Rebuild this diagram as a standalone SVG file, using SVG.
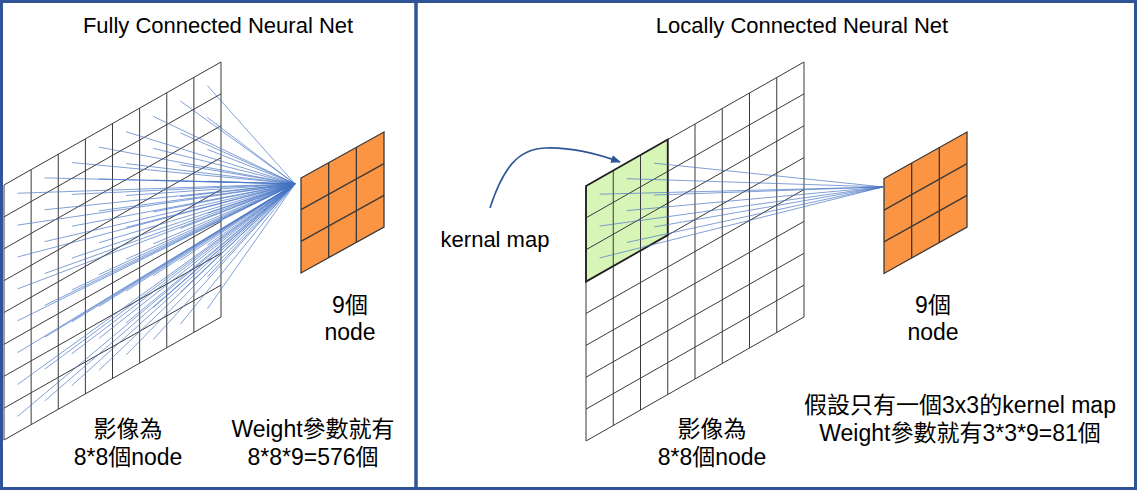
<svg xmlns="http://www.w3.org/2000/svg" width="1137" height="490" viewBox="0 0 1137 490">
<style>
.t{font-family:"Liberation Sans","Noto Sans CJK TC",sans-serif;fill:#000;text-anchor:middle}
.grid{fill:none;stroke:#3a3a3a;stroke-width:1}
.orange{fill:#FB9443;stroke:#3a3a3a;stroke-width:1.3}
.blue{fill:none;stroke:#4472C4;stroke-width:0.8;stroke-opacity:0.85}
.ns{vector-effect:non-scaling-stroke}
</style>
<defs>
<marker id="ah" markerWidth="10" markerHeight="8" refX="9" refY="4" orient="auto" markerUnits="userSpaceOnUse">
<path d="M0,0L10,4L0,8Z" fill="#2F5597"/>
</marker>
</defs>
<rect x="0" y="0" width="1137" height="490" fill="#fff"/>

<g id="frame">
<rect x="1.5" y="1.5" width="1134" height="487" fill="none" stroke="#2F5597" stroke-width="3"/>
<line x1="416" y1="0" x2="416" y2="490" stroke="#2F5597" stroke-width="3.5"/>
</g>

<g id="left-title"><text class="t" x="218" y="33" font-size="22">Fully Connected Neural Net</text></g>
<g id="right-title"><text class="t" x="802" y="33" font-size="22">Locally Connected Neural Net</text></g>

<g id="left-input-grid">
<path class="grid ns" transform="matrix(27.125,-15.375,0,31.875,4,185)" d="M0,0V8M1,0V8M2,0V8M3,0V8M4,0V8M5,0V8M6,0V8M7,0V8M8,0V8M0,0H8M0,1H8M0,2H8M0,3H8M0,4H8M0,5H8M0,6H8M0,7H8M0,8H8"/>
</g>

<g id="left-output">
<path class="orange ns" transform="matrix(27.667,-15.333,0,31.667,301,178)" d="M0,0H3V3H0Z"/>
<path class="grid ns" transform="matrix(27.667,-15.333,0,31.667,301,178)" d="M1,0V3M2,0V3M0,1H3M0,2H3" style="stroke-width:1.3"/>
</g>

<g id="right-input-grid">
<path transform="matrix(27.25,-15.5,0,31.875,586,186)" d="M0,0H3V3H0Z" fill="#D8F5B8"/>
<path class="grid ns" transform="matrix(27.25,-15.5,0,31.875,586,186)" d="M0,0V8M1,0V8M2,0V8M3,0V8M4,0V8M5,0V8M6,0V8M7,0V8M8,0V8M0,0H8M0,1H8M0,2H8M0,3H8M0,4H8M0,5H8M0,6H8M0,7H8M0,8H8"/>
<path class="ns" transform="matrix(27.25,-15.5,0,31.875,586,186)" d="M0,0H3V3H0Z" fill="none" stroke="#222" stroke-width="1.8"/>
</g>

<g id="right-output">
<path class="orange ns" transform="matrix(27.667,-15.5,0,31.667,884,178.5)" d="M0,0H3V3H0Z"/>
<path class="grid ns" transform="matrix(27.667,-15.5,0,31.667,884,178.5)" d="M1,0V3M2,0V3M0,1H3M0,2H3" style="stroke-width:1.3"/>
</g>

<g id="connectors">
<path class="blue ns" transform="matrix(27.125,-15.375,0,31.875,4,185)" d="M.5,.5L10.73,5.14M.5,1.5L10.73,5.14M.5,2.5L10.73,5.14M.5,3.5L10.73,5.14M.5,4.5L10.73,5.14M.5,5.5L10.73,5.14M.5,6.5L10.73,5.14M.5,7.5L10.73,5.14M1.5,.5L10.73,5.14M1.5,1.5L10.73,5.14M1.5,2.5L10.73,5.14M1.5,3.5L10.73,5.14M1.5,4.5L10.73,5.14M1.5,5.5L10.73,5.14M1.5,6.5L10.73,5.14M1.5,7.5L10.73,5.14M2.5,.5L10.73,5.14M2.5,1.5L10.73,5.14M2.5,2.5L10.73,5.14M2.5,3.5L10.73,5.14M2.5,4.5L10.73,5.14M2.5,5.5L10.73,5.14M2.5,6.5L10.73,5.14M2.5,7.5L10.73,5.14M3.5,.5L10.73,5.14M3.5,1.5L10.73,5.14M3.5,2.5L10.73,5.14M3.5,3.5L10.73,5.14M3.5,4.5L10.73,5.14M3.5,5.5L10.73,5.14M3.5,6.5L10.73,5.14M3.5,7.5L10.73,5.14M4.5,.5L10.73,5.14M4.5,1.5L10.73,5.14M4.5,2.5L10.73,5.14M4.5,3.5L10.73,5.14M4.5,4.5L10.73,5.14M4.5,5.5L10.73,5.14M4.5,6.5L10.73,5.14M4.5,7.5L10.73,5.14M5.5,.5L10.73,5.14M5.5,1.5L10.73,5.14M5.5,2.5L10.73,5.14M5.5,3.5L10.73,5.14M5.5,4.5L10.73,5.14M5.5,5.5L10.73,5.14M5.5,6.5L10.73,5.14M5.5,7.5L10.73,5.14M6.5,.5L10.73,5.14M6.5,1.5L10.73,5.14M6.5,2.5L10.73,5.14M6.5,3.5L10.73,5.14M6.5,4.5L10.73,5.14M6.5,5.5L10.73,5.14M6.5,6.5L10.73,5.14M6.5,7.5L10.73,5.14M7.5,.5L10.73,5.14M7.5,1.5L10.73,5.14M7.5,2.5L10.73,5.14M7.5,3.5L10.73,5.14M7.5,4.5L10.73,5.14M7.5,5.5L10.73,5.14M7.5,6.5L10.73,5.14M7.5,7.5L10.73,5.14"/>
<path class="blue ns" transform="matrix(27.25,-15.5,0,31.875,586,186)" d="M.5,.5L10.9,5.33M.5,1.5L10.9,5.33M.5,2.5L10.9,5.33M1.5,.5L10.9,5.33M1.5,1.5L10.9,5.33M1.5,2.5L10.9,5.33M2.5,.5L10.9,5.33M2.5,1.5L10.9,5.33M2.5,2.5L10.9,5.33"/>
<path d="M490,208 C503,168 518,149 545,148 C572,147 598,154 620,162" fill="none" stroke="#2F5597" stroke-width="1.6" marker-end="url(#ah)"/>
</g>

<g id="left-labels">
<text class="t" x="350" y="313" font-size="23">9個</text>
<text class="t" x="350" y="340" font-size="23">node</text>
<text class="t" x="128" y="437" font-size="23">影像為</text>
<text class="t" x="128" y="465" font-size="23">8*8個node</text>
<text class="t" x="313" y="437" font-size="23">Weight參數就有</text>
<text class="t" x="313" y="465" font-size="23">8*8*9=576個</text>
</g>

<g id="right-labels">
<text class="t" x="495" y="247" font-size="22">kernal map</text>
<text class="t" x="933" y="313" font-size="23">9個</text>
<text class="t" x="933" y="340" font-size="23">node</text>
<text class="t" x="712" y="437" font-size="23">影像為</text>
<text class="t" x="712" y="465" font-size="23">8*8個node</text>
<text class="t" x="960" y="413" font-size="23">假設只有一個3x3的kernel map</text>
<text class="t" x="960" y="441" font-size="23">Weight參數就有3*3*9=81個</text>
</g>
</svg>
